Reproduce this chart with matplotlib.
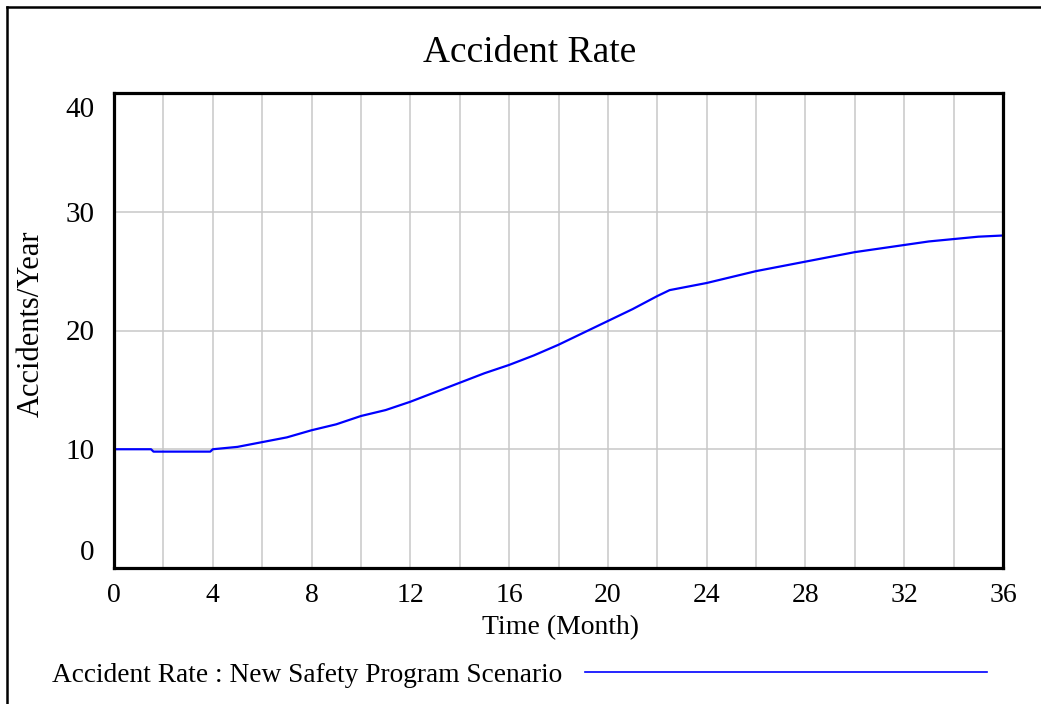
import matplotlib
matplotlib.use("Agg")
import matplotlib.pyplot as plt
from matplotlib.lines import Line2D
from matplotlib.transforms import ScaledTranslation

# Simulated accident rate under the new safety program
months = [0, 1, 1.5, 1.6, 2, 3, 3.9, 4.0, 5, 6, 7, 8, 9, 10, 11, 12, 13, 14, 15,
          16, 17, 18, 19, 20, 21, 22, 22.5, 23, 24, 25, 26, 27, 28, 29, 30, 31,
          32, 33, 34, 35, 36]
accident_rate = [10.0, 10.0, 10.0, 9.8, 9.8, 9.8, 9.8, 10.0, 10.2, 10.6, 11.0,
                 11.6, 12.1, 12.8, 13.3, 14.0, 14.8, 15.6, 16.4, 17.1, 17.9,
                 18.8, 19.8, 20.8, 21.8, 22.9, 23.4, 23.6, 24.0, 24.5, 25.0,
                 25.4, 25.8, 26.2, 26.6, 26.9, 27.2, 27.5, 27.7, 27.9, 28.0]

x_ticks = [0, 4, 8, 12, 16, 20, 24, 28, 32, 36]
x_grid = list(range(2, 36, 2))
y_ticks = [0, 10, 20, 30, 40]

title = "Accident Rate"
x_label = "Time (Month)"
y_label = "Accidents/Year"
series_label = "Accident Rate : New Safety Program Scenario"

W, H = 1041, 704
plt.rcParams["font.family"] = ["Liberation Serif", "DejaVu Serif"]

fig = plt.figure(figsize=(W / 100, H / 100), dpi=100)
fig.patch.set_facecolor("white")

# plot area in pixel coordinates
left, right, top, bottom = 114, 1003, 93, 568
ax = fig.add_axes([left / W, 1 - bottom / H, (right - left) / W, (bottom - top) / H])

ax.set_xlim(0, 36)
ax.set_ylim(0, 40)

for g in x_grid:
    ax.axvline(g, color="#c8c8c8", lw=1.1, zorder=1)
for g in y_ticks[1:-1]:
    ax.axhline(g, color="#c8c8c8", lw=1.1, zorder=1)

ax.plot(months, accident_rate, color="#0000ff", lw=1.6, zorder=3)

ax.set_xticks(x_ticks)
ax.set_xticklabels([str(t) for t in x_ticks], fontsize=20)
ax.set_yticks(y_ticks)
ax.set_yticklabels([str(t) for t in y_ticks], fontsize=21)
ax.tick_params(axis="both", length=0)
ax.tick_params(axis="x", pad=11)
ax.tick_params(axis="y", pad=14)
ylabels = ax.get_yticklabels()
ylabels[0].set_va("bottom")
ylabels[0].set_transform(ylabels[0].get_transform()
                         + ScaledTranslation(0, 2 / 100, fig.dpi_scale_trans))
ylabels[-1].set_va("top")
ylabels[-1].set_transform(ylabels[-1].get_transform()
                          + ScaledTranslation(0, -4 / 100, fig.dpi_scale_trans))

for s in ax.spines.values():
    s.set_linewidth(2.3)
    s.set_color("black")
    s.set_zorder(4)

# titles and axis labels
fig.text(530 / W, 1 - 53 / H, title, ha="center", va="center", fontsize=27)
fig.text(560 / W, 1 - 628 / H, x_label, ha="center", va="center", fontsize=20)
fig.text(31 / W, 1 - 324 / H, y_label, ha="center", va="center",
         rotation=90, fontsize=22)

# legend row
fig.text(52 / W, 1 - 675 / H, series_label, ha="left", va="center", fontsize=19.7)
fig.add_artist(Line2D([585 / W, 987 / W], [1 - 672 / H, 1 - 672 / H],
                      color="#0000ff", lw=1.2, transform=fig.transFigure))

# outer window frame (left and top edges)
fig.add_artist(Line2D([7 / W, 7 / W], [0, 1 - 7 / H], color="black", lw=1.8,
                      transform=fig.transFigure))
fig.add_artist(Line2D([7 / W, 1], [1 - 7 / H, 1 - 7 / H], color="black", lw=1.8,
                      transform=fig.transFigure))

fig.savefig("out.png", dpi=100, facecolor="white")
